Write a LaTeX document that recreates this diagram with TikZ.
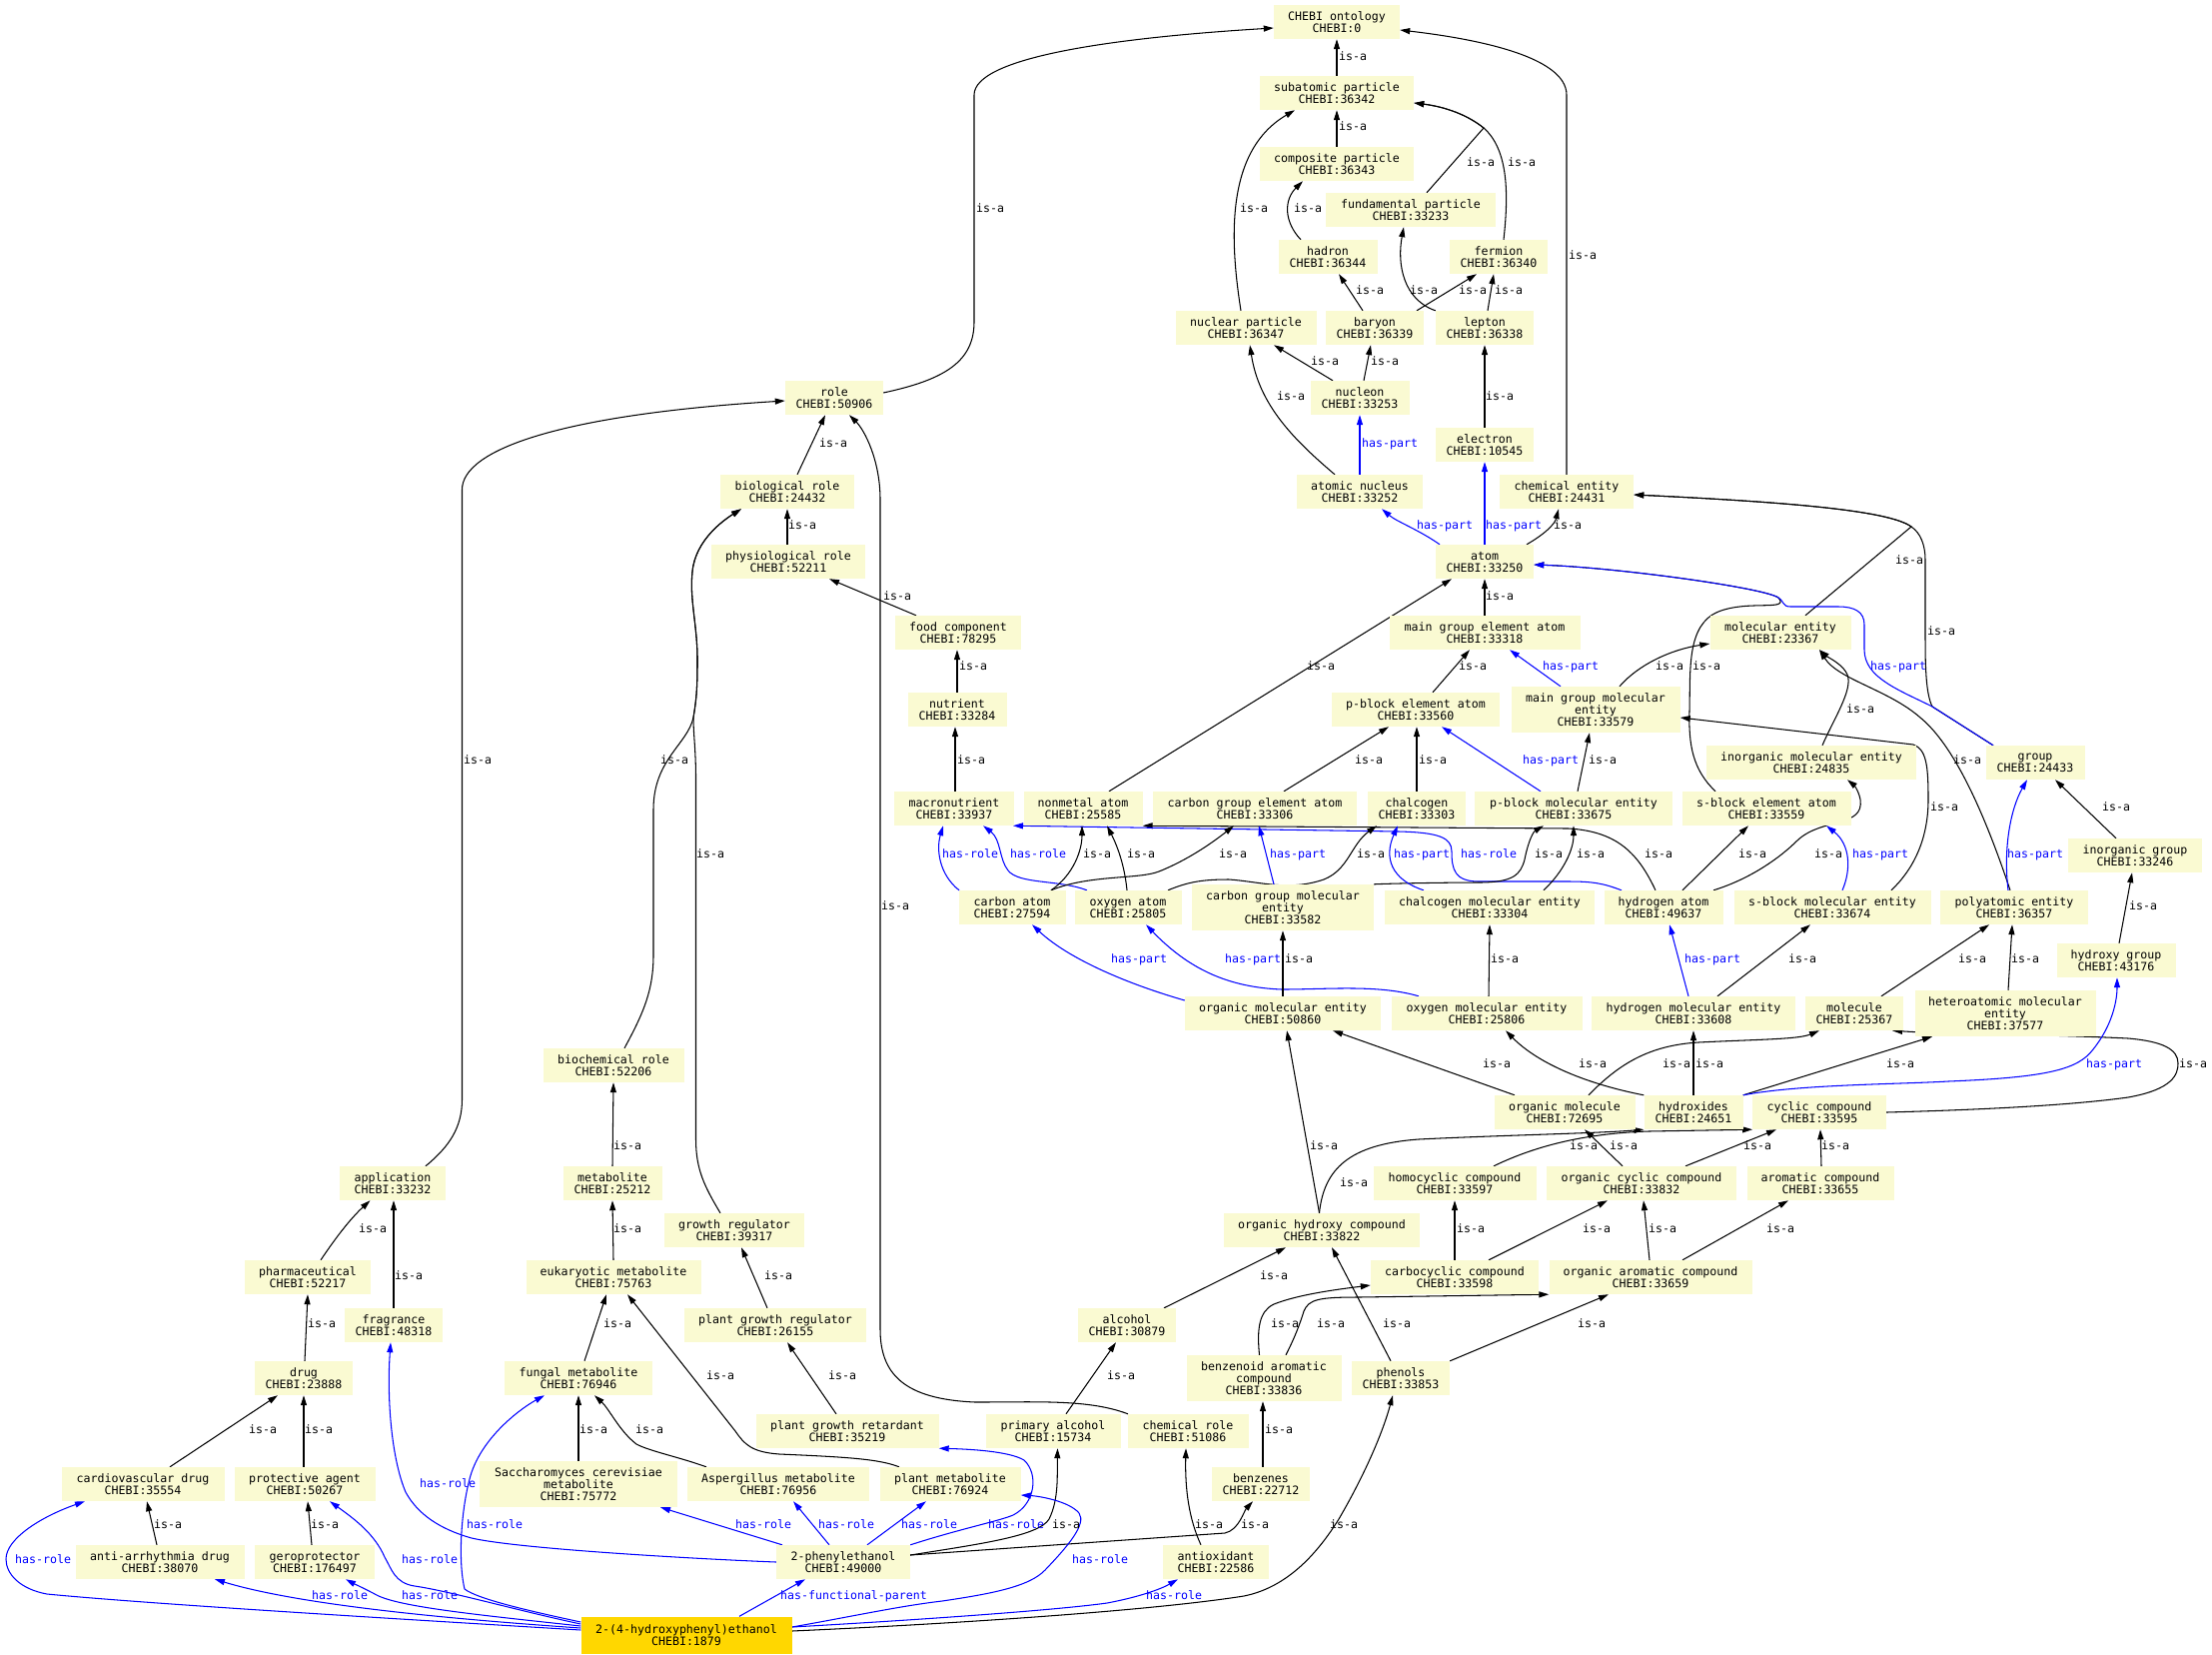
\documentclass[tikz,border=0pt]{standalone}
\usepackage{fontspec}
\setmonofont{DejaVu Sans Mono}
\usetikzlibrary{arrows.meta}
\definecolor{nodefill}{HTML}{FAFAD2}
\definecolor{goldfill}{HTML}{FFD700}
\newcommand\gvfont{\ttfamily\fontsize{11.6pt}{12pt}\selectfont}
\newcounter{elab}
\newcommand\elab[3][lk]{\stepcounter{elab}\node[#1] (lab\arabic{elab}) at (#2) {#3};}
\pgfdeclarelayer{back}
\pgfdeclarelayer{edges}
\pgfsetlayers{back,edges,main}
\tikzset{
 box/.style={fill=nodefill, inner sep=0pt, minimum height=34pt, align=center, font=\gvfont},
 box3/.style={box, minimum height=46pt},
 isa/.style={draw=black, line width=1.05pt, -{Triangle[length=10pt,width=6pt]}},
 hasp/.style={isa, draw=blue},
 lk/.style={font=\gvfont, inner sep=0pt, anchor=west, text height=8pt, text depth=2pt},
 lb/.style={lk, text=blue},
}
\begin{document}
\begin{tikzpicture}[x=1pt,y=-1pt]
\begin{pgfonlayer}{back}
\fill[white] (0,0) rectangle (2214,1655);
\end{pgfonlayer}
\useasboundingbox (0,0) rectangle (2214,1655);
% ---------------- nodes
\node[box,minimum width=126pt] (ont) at (1338,22) {CHEBI ontology\\CHEBI:0};
\node[box,minimum width=154pt] (subat) at (1338,93) {subatomic particle\\CHEBI:36342};
\node[box,minimum width=154pt] (compos) at (1338,164) {composite particle\\CHEBI:36343};
\node[box,minimum width=170pt] (fundam) at (1412,210) {fundamental particle\\CHEBI:33233};
\node[box,minimum width=99pt] (hadron) at (1329,257) {hadron\\CHEBI:36344};
\node[box,minimum width=98pt] (fermion) at (1500,257) {fermion\\CHEBI:36340};
\node[box,minimum width=141pt] (nuclpart) at (1247,328) {nuclear particle\\CHEBI:36347};
\node[box,minimum width=98pt] (baryon) at (1376,328) {baryon\\CHEBI:36339};
\node[box,minimum width=98pt] (lepton) at (1486,328) {lepton\\CHEBI:36338};
\node[box,minimum width=99pt] (nucleon) at (1361,398) {nucleon\\CHEBI:33253};
\node[box,minimum width=98pt] (electron) at (1486,445) {electron\\CHEBI:10545};
\node[box,minimum width=126pt] (atnucl) at (1361,492) {atomic nucleus\\CHEBI:33252};
\node[box,minimum width=134pt] (chement) at (1568,492) {chemical entity\\CHEBI:24431};
\node[box,minimum width=98pt] (role) at (835,398) {role\\CHEBI:50906};
\node[box,minimum width=134pt] (biorole) at (788,492) {biological role\\CHEBI:24432};
\node[box,minimum width=154pt] (physrole) at (789,562) {physiological role\\CHEBI:52211};
\node[box,minimum width=98pt] (atom) at (1486,562) {atom\\CHEBI:33250};
\node[box,minimum width=126pt] (foodcomp) at (959,633) {food component\\CHEBI:78295};
\node[box,minimum width=191pt] (mgea) at (1486,633) {main group element atom\\CHEBI:33318};
\node[box,minimum width=141pt] (molent) at (1782,633) {molecular entity\\CHEBI:23367};
\node[box,minimum width=99pt] (nutrient) at (958,710) {nutrient\\CHEBI:33284};
\node[box,minimum width=168pt] (pbea) at (1417,710) {p-block element atom\\CHEBI:33560};
\node[box3,minimum width=169pt] (mgme) at (1597,710) {main group molecular\\entity\\CHEBI:33579};
\node[box,minimum width=99pt] (group) at (2037,763) {group\\CHEBI:24433};
\node[box,minimum width=210pt] (inorgme) at (1813,763) {inorganic molecular entity\\CHEBI:24835};
\node[box,minimum width=120pt] (macronut) at (955,809) {macronutrient\\CHEBI:33937};
\node[box,minimum width=119pt] (nonmetal) at (1084,809) {nonmetal atom\\CHEBI:25585};
\node[box,minimum width=204pt] (cgea) at (1256,809) {carbon group element atom\\CHEBI:33306};
\node[box,minimum width=98pt] (chalcogen) at (1418,809) {chalcogen\\CHEBI:33303};
\node[box,minimum width=198pt] (pbme) at (1575,809) {p-block molecular entity\\CHEBI:33675};
\node[box,minimum width=169pt] (sbea) at (1768,809) {s-block element atom\\CHEBI:33559};
\node[box,minimum width=134pt] (inorggroup) at (2137,856) {inorganic group\\CHEBI:33246};
\node[box,minimum width=107pt] (carbonatom) at (1013,908) {carbon atom\\CHEBI:27594};
\node[box,minimum width=107pt] (oxyatom) at (1129,908) {oxygen atom\\CHEBI:25805};
\node[box3,minimum width=182pt] (cgme) at (1284,908) {carbon group molecular\\entity\\CHEBI:33582};
\node[box,minimum width=210pt] (chalme) at (1491,908) {chalcogen molecular entity\\CHEBI:33304};
\node[box,minimum width=119pt] (hatom) at (1665,908) {hydrogen atom\\CHEBI:49637};
\node[box,minimum width=197pt] (sbme) at (1834,908) {s-block molecular entity\\CHEBI:33674};
\node[box,minimum width=148pt] (polyat) at (2016,908) {polyatomic entity\\CHEBI:36357};
\node[box,minimum width=119pt] (hydroxygrp) at (2118,961) {hydroxy group\\CHEBI:43176};
\node[box,minimum width=196pt] (orgme) at (1284,1014) {organic molecular entity\\CHEBI:50860};
\node[box,minimum width=191pt] (oxyme) at (1488,1014) {oxygen molecular entity\\CHEBI:25806};
\node[box,minimum width=204pt] (hme) at (1695,1014) {hydrogen molecular entity\\CHEBI:33608};
\node[box,minimum width=98pt] (molecule) at (1856,1014) {molecule\\CHEBI:25367};
\node[box3,minimum width=181pt] (hetero) at (2007,1014) {heteroatomic molecular\\entity\\CHEBI:37577};
\node[box,minimum width=141pt] (biochem) at (614,1066) {biochemical role\\CHEBI:52206};
\node[box,minimum width=141pt] (orgmol) at (1566,1113) {organic molecule\\CHEBI:72695};
\node[box,minimum width=99pt] (hydroxides) at (1695,1113) {hydroxides\\CHEBI:24651};
\node[box,minimum width=134pt] (cyclic) at (1821,1113) {cyclic compound\\CHEBI:33595};
\node[box,minimum width=163pt] (homocyc) at (1456,1184) {homocyclic compound\\CHEBI:33597};
\node[box,minimum width=190pt] (orgcyc) at (1643,1184) {organic cyclic compound\\CHEBI:33832};
\node[box,minimum width=147pt] (aromatic) at (1822,1184) {aromatic compound\\CHEBI:33655};
\node[box,minimum width=106pt] (application) at (393,1184) {application\\CHEBI:33232};
\node[box,minimum width=99pt] (metabolite) at (613,1184) {metabolite\\CHEBI:25212};
\node[box,minimum width=140pt] (growthreg) at (735,1231) {growth regulator\\CHEBI:39317};
\node[box,minimum width=196pt] (orghydroxy) at (1323,1231) {organic hydroxy compound\\CHEBI:33822};
\node[box,minimum width=126pt] (pharma) at (308,1278) {pharmaceutical\\CHEBI:52217};
\node[box,minimum width=175pt] (eukmet) at (614,1278) {eukaryotic metabolite\\CHEBI:75763};
\node[box,minimum width=168pt] (carbocyc) at (1456,1278) {carbocyclic compound\\CHEBI:33598};
\node[box,minimum width=203pt] (orgarom) at (1652,1278) {organic aromatic compound\\CHEBI:33659};
\node[box,minimum width=98pt] (fragrance) at (394,1326) {fragrance\\CHEBI:48318};
\node[box,minimum width=182pt] (pgreg) at (776,1326) {plant growth regulator\\CHEBI:26155};
\node[box,minimum width=98pt] (alcohol) at (1128,1326) {alcohol\\CHEBI:30879};
\node[box3,minimum width=155pt] (benzenoid) at (1265,1379) {benzenoid aromatic\\compound\\CHEBI:33836};
\node[box,minimum width=98pt] (phenols) at (1402,1379) {phenols\\CHEBI:33853};
\node[box,minimum width=98pt] (drug) at (304,1379) {drug\\CHEBI:23888};
\node[box,minimum width=148pt] (fungal) at (579,1379) {fungal metabolite\\CHEBI:76946};
\node[box,minimum width=183pt] (pgret) at (848,1432) {plant growth retardant\\CHEBI:35219};
\node[box,minimum width=135pt] (primalc) at (1054,1432) {primary alcohol\\CHEBI:15734};
\node[box,minimum width=121pt] (chemrole) at (1189,1432) {chemical role\\CHEBI:51086};
\node[box,minimum width=163pt] (cardio) at (143,1485) {cardiovascular drug\\CHEBI:35554};
\node[box,minimum width=141pt] (protect) at (305,1485) {protective agent\\CHEBI:50267};
\node[box3,minimum width=198pt] (saccharo) at (579,1485) {Saccharomyces cerevisiae\\metabolite\\CHEBI:75772};
\node[box,minimum width=182pt] (asperg) at (779,1485) {Aspergillus metabolite\\CHEBI:76956};
\node[box,minimum width=141pt] (plantmet) at (951,1485) {plant metabolite\\CHEBI:76924};
\node[box,minimum width=98pt] (benzenes) at (1262,1485) {benzenes\\CHEBI:22712};
\node[box,minimum width=169pt] (antiarr) at (160,1563) {anti-arrhythmia drug\\CHEBI:38070};
\node[box,minimum width=120pt] (gero) at (315,1563) {geroprotector\\CHEBI:176497};
\node[box,minimum width=134pt] (phenyleth) at (844,1563) {2-phenylethanol\\CHEBI:49000};
\node[box,minimum width=106pt] (antiox) at (1217,1563) {antioxidant\\CHEBI:22586};
\node[box,fill=goldfill,minimum width=211pt,minimum height=37pt] (target) at (687,1636) {2-(4-hydroxyphenyl)ethanol\\CHEBI:1879};
% ---------------- edges
\begin{pgfonlayer}{edges}
% particles
\draw[isa] (subat.north) -- (ont.south);
\draw[isa] ([yshift=5pt]role.east) .. controls (945,380) and (975,362) .. (975,322) -- (975,95) .. controls (975,58) and (1110,38) .. ([yshift=-6pt]ont.west);
\draw[isa] (chement.north) -- (1568,95) .. controls (1568,55) and (1470,38) .. ([yshift=-8pt]ont.east);
\draw[isa] (compos.north) -- (subat.south);
\draw[isa] ([xshift=-5pt]nuclpart.north) .. controls (1230,235) and (1228,150) .. ([xshift=-42pt]subat.south);
\draw[isa] ([xshift=16pt]fundam.north) -- (1485,128) .. controls (1465,112) and (1440,106) .. ([yshift=-10pt]subat.east);
\draw[isa] ([xshift=5pt]fermion.north) .. controls (1510,195) and (1510,150) .. (1485,128) .. controls (1465,112) and (1440,106) .. ([yshift=-10pt]subat.east);
\draw[isa] ([xshift=-27pt]hadron.north) .. controls (1285,222) and (1285,200) .. ([xshift=-34pt]compos.south);
\draw[isa] ([xshift=-12pt]baryon.north) -- ([xshift=11pt]hadron.south);
\draw[isa] ([xshift=42pt]baryon.north) -- ([xshift=-22pt]fermion.south);
\draw[isa] (lepton.north west) .. controls (1405,300) and (1398,265) .. ([xshift=-7pt]fundam.south);
\draw[isa] ([xshift=3pt]lepton.north) -- ([xshift=-5pt]fermion.south);
\draw[isa] ([xshift=-27pt]nucleon.north) -- ([xshift=28pt]nuclpart.south);
\draw[isa] ([xshift=4pt]nucleon.north) -- ([xshift=-4pt]baryon.south);
\draw[isa] ([xshift=-25pt]atnucl.north) .. controls (1295,440) and (1260,405) .. ([xshift=4pt]nuclpart.south);
\draw[hasp] (atnucl.north) -- (nucleon.south);
\draw[isa] (electron.north) -- (lepton.south);
\draw[hasp] ([xshift=-45pt]atom.north) .. controls (1420,530) and (1398,522) .. ([xshift=22pt]atnucl.south);
\draw[hasp] (atom.north) -- (electron.south);
\draw[isa] ([xshift=42pt]atom.north) .. controls (1545,535) and (1556,525) .. ([xshift=-8pt]chement.south);
% upper right
\draw[isa] ([xshift=-42pt]group.north) -- (1934,707) .. controls (1928,695) and (1927,670) .. (1927,640) -- (1927,560) .. controls (1927,545) and (1922,533) .. (1913,527) .. controls (1890,510) and (1780,502) .. ([yshift=-3pt]chement.east);
\draw[isa] ([xshift=25pt]molent.north) -- (1913,527) .. controls (1890,510) and (1780,502) .. ([yshift=-3pt]chement.east);
\draw[isa] ([xshift=-51pt]sbea.north) .. controls (1694,770) and (1690,745) .. (1691,711) .. controls (1692,670) and (1688,625) .. (1720,612) .. controls (1750,600) and (1792,612) .. (1780,598) .. controls (1765,588) and (1620,568) .. ([yshift=-3pt]atom.east);
\draw[hasp] ([xshift=-42pt]group.north) -- (1934,707) .. controls (1900,690) and (1866,678) .. (1866,650) -- (1866,625) .. controls (1866,612) and (1856,607) .. (1840,607) -- (1792,607) .. controls (1784,607) and (1786,602) .. (1780,598) .. controls (1765,588) and (1620,568) .. ([yshift=-3pt]atom.east);
\draw[isa] (mgea.north) -- (atom.south);
\draw[isa] ([xshift=26pt]nonmetal.north) -- ([xshift=-33pt]atom.south);
\draw[isa] ([xshift=17pt]pbea.north) -- ([xshift=-15pt]mgea.south);
\draw[hasp] ([xshift=-35pt]mgme.north) -- ([xshift=25pt]mgea.south);
\draw[isa] ([xshift=24pt]mgme.north) .. controls (1640,665) and (1672,650) .. ([yshift=-11pt]molent.west);
% roles
\draw[isa] ([xshift=-42pt]foodcomp.north) -- ([xshift=41pt]physrole.south);
\draw[isa] ([xshift=-1pt]physrole.north) -- (biorole.south);
\draw[isa] ([xshift=10pt]biorole.north) -- ([xshift=-9pt]role.south);
\draw[isa] ([xshift=-60pt]chemrole.north) .. controls (1090,1400) and (1040,1403) .. (976,1403) .. controls (905,1400) and (881,1375) .. (881,1330) -- (881,500) .. controls (881,460) and (865,430) .. ([xshift=15pt]role.south);
\draw[isa] ([xshift=33pt]application.north) .. controls (450,1147) and (462.5,1128) .. (462.5,1100) -- (462.5,490) .. controls (462.5,450) and (560,415) .. ([yshift=-3pt]role.west);
\draw[isa] ([xshift=11pt]biochem.north) .. controls (645,1012) and (654,990) .. (654,955) -- (654,810) .. controls (654,760) and (688,745) .. (694,718) .. controls (697,700) and (698,690) .. (698,660) .. controls (698,625) and (690,600) .. (693,572) .. controls (696,540) and (725,520) .. ([xshift=-46pt]biorole.south);
\draw[isa] ([xshift=-14pt]growthreg.north) .. controls (705,1187) and (696.5,1170) .. (696.5,1140) -- (696.5,780) .. controls (696.5,750) and (694,735) .. (694,718) .. controls (697,700) and (698,690) .. (698,660) .. controls (698,625) and (690,600) .. (693,572) .. controls (696,540) and (725,520) .. ([xshift=-46pt]biorole.south);
\draw[isa] (nutrient.north) -- ([xshift=-1pt]foodcomp.south);
\draw[isa] ([xshift=1pt]macronut.north) -- ([xshift=-2pt]nutrient.south);
% atoms row
\draw[isa] ([xshift=29pt]cgea.north) -- ([xshift=-27pt]pbea.south);
\draw[isa] (chalcogen.north) -- ([xshift=1pt]pbea.south);
\draw[hasp] ([xshift=-33pt]pbme.north) -- ([xshift=26pt]pbea.south);
\draw[isa] ([xshift=4pt]pbme.north) -- ([xshift=-6pt]mgme.south);
\draw[isa] ([xshift=11pt]inorgme.north) .. controls (1835,720) and (1855,690) .. (1849,675) .. controls (1845,665) and (1830,658) .. ([xshift=39pt]molent.south);
\draw[isa] ([xshift=-4pt]polyat.north) .. controls (1985,810) and (1955,745) .. (1922,718) .. controls (1890,690) and (1840,680) .. ([xshift=39pt]molent.south);
\draw[isa] ([xshift=59pt]sbme.north) .. controls (1915,870) and (1930,840) .. (1930,800) .. controls (1930,765) and (1928,750) .. (1915,745) -- ([yshift=-8pt]mgme.east);
\draw[isa] ([xshift=19pt]hatom.north) -- ([xshift=-18pt]sbea.south);
\draw[isa] ([xshift=-8pt]hatom.north) .. controls (1640,855) and (1620,832) .. (1570,829) -- (nonmetal.south east);
\draw[hasp] ([xshift=-42pt]hatom.north) .. controls (1605,884) and (1595,882) .. (1570,882) -- (1480,882) .. controls (1456,882) and (1453,870) .. (1453,852) .. controls (1453,838) and (1440,833) .. (1400,832) -- ([xshift=59pt]macronut.south);
\draw[isa] (cgme.north east) .. controls (1390,884) and (1450,883) .. (1480,883) .. controls (1515,883) and (1522,875) .. (1526,860) .. controls (1530,840) and (1535,832) .. ([xshift=-30pt]pbme.south);
\draw[isa] ([xshift=54pt]chalme.north) .. controls (1565,872) and (1575,850) .. (pbme.south);
\draw[hasp] ([xshift=-66pt]chalme.north) .. controls (1392,880) and (1385,858) .. ([xshift=-19pt]chalcogen.south);
\draw[isa] ([xshift=40pt]oxyatom.north) .. controls (1190,882) and (1205,880) .. (1230,880) .. controls (1260,882) and (1290,892) .. (1325,880) .. controls (1350,870) and (1352,845) .. ([xshift=-40pt]chalcogen.south);
\draw[hasp] ([xshift=-9pt]cgme.north) -- ([xshift=4pt]cgea.south);
\draw[hasp] ([xshift=-53pt]carbonatom.north) .. controls (940,875) and (937,850) .. ([xshift=-11pt]macronut.south);
\draw[hasp] ([xshift=-41pt]oxyatom.north) .. controls (1060,880) and (1020,885) .. (1009,871) .. controls (1000,860) and (1002,840) .. ([xshift=29pt]macronut.south);
\draw[isa] ([xshift=39pt]carbonatom.north) .. controls (1075,875) and (1083,850) .. ([xshift=-1pt]nonmetal.south);
\draw[isa] ([xshift=-1pt]oxyatom.north) .. controls (1125,860) and (1115,840) .. ([xshift=24pt]nonmetal.south);
\draw[isa] ([xshift=39pt]carbonatom.north) .. controls (1090,875) and (1140,880) .. (1160,872) .. controls (1190,860) and (1215,842) .. ([xshift=-21pt]cgea.south);
\draw[isa] ([xshift=50pt]hatom.north) .. controls (1750,880) and (1780,860) .. (1800,840) .. controls (1825,818) and (1866,828) .. (1862,800) .. controls (1860,790) and (1855,785) .. ([xshift=36pt]inorgme.south);
\draw[hasp] ([xshift=10pt]sbme.north) .. controls (1853,870) and (1852,845) .. ([xshift=60pt]sbea.south);
% molecular entity row
\draw[hasp] ([yshift=13pt]orgme.west) .. controls (1130,985) and (1070,960) .. ([xshift=20pt]carbonatom.south);
\draw[hasp] ([xshift=-68pt]oxyme.north) .. controls (1380,985) and (1330,990) .. (1283,990) .. controls (1230,988) and (1190,970) .. ([xshift=18pt]oxyatom.south);
\draw[isa] (orgme.north) -- (cgme.south);
\draw[isa] ([xshift=2pt]oxyme.north) -- (chalme.south);
\draw[hasp] ([xshift=-5pt]hme.north) -- ([xshift=6pt]hatom.south);
\draw[isa] ([xshift=24pt]hme.north) -- ([xshift=-22pt]sbme.south);
\draw[isa] ([xshift=27pt]molecule.north) -- ([xshift=-25pt]polyat.south);
\draw[isa] ([xshift=3pt]hetero.north) -- ([xshift=-2pt]polyat.south);
\draw[hasp] ([xshift=-6pt]polyat.north) .. controls (2005,850) and (2012,810) .. ([xshift=-8pt]group.south);
\draw[isa] ([xshift=-19pt]inorggroup.north) -- ([xshift=20pt]group.south);
\draw[isa] ([xshift=3pt]hydroxygrp.north) -- ([xshift=-3pt]inorggroup.south);
% lower right
\draw[isa] (hydroxides.north west) .. controls (1590,1085) and (1540,1065) .. ([xshift=19pt]oxyme.south);
\draw[isa] ([xshift=24pt]orgmol.north) .. controls (1620,1065) and (1650,1046) .. (1700,1043) .. controls (1760,1040) and (1800,1040) .. ([xshift=-35pt]molecule.south);
\draw[isa] (hydroxides.north) -- (hme.south);
\draw[isa] (hydroxides.north east) -- ([xshift=-73pt]hetero.south);
\draw[isa] (cyclic.east) .. controls (2000,1110) and (2080,1105) .. (2130,1098) .. controls (2175,1090) and (2180,1075) .. (2180,1064) .. controls (2180,1050) and (2165,1042) .. (2130,1039) .. controls (2050,1035) and (1950,1035) .. ([xshift=38pt]molecule.south);
\draw[hasp] (hydroxides.north east) .. controls (1800,1085) and (1900,1085) .. (1950,1082) .. controls (2050,1078) and (2080,1070) .. (2095,1050) .. controls (2115,1025) and (2119,1000) .. ([xshift=1pt]hydroxygrp.south);
\draw[isa] ([xshift=-50pt]orgmol.north) -- ([xshift=50pt]orgme.south);
\draw[isa] ([xshift=-19pt]orgcyc.north) -- ([xshift=20pt]orgmol.south);
\draw[isa] ([xshift=39pt]homocyc.north) .. controls (1540,1145) and (1590,1134) .. (1650,1132) -- ([xshift=-67pt]cyclic.south);
\draw[isa] ([xshift=-2.5pt]orghydroxy.north) .. controls (1325,1170) and (1350,1145) .. (1420,1140) .. controls (1500,1136) and (1600,1134) .. (hydroxides.south west);
\draw[isa] ([xshift=44pt]orgcyc.north) -- ([xshift=-43pt]cyclic.south);
\draw[isa] ([xshift=1pt]aromatic.north) -- ([xshift=1pt]cyclic.south);
\draw[isa] (carbocyc.north) -- (homocyc.south);
\draw[isa] ([xshift=34pt]carbocyc.north) -- ([xshift=-34pt]orgcyc.south);
\draw[isa] ([xshift=-1pt]orgarom.north) -- ([xshift=2pt]orgcyc.south);
\draw[isa] ([xshift=32pt]orgarom.north) -- ([xshift=-32pt]aromatic.south);
\draw[isa] (phenols.north east) -- ([xshift=-42pt]orgarom.south);
\draw[isa] ([xshift=-10pt]phenols.north) -- ([xshift=10pt]orghydroxy.south);
\draw[isa] ([xshift=-4.5pt]benzenoid.north) .. controls (1258,1330) and (1260,1312) .. (1275,1305) .. controls (1300,1295) and (1340,1290) .. ([yshift=-8pt]carbocyc.west);
\draw[isa] ([xshift=22pt]benzenoid.north) .. controls (1295,1340) and (1300,1328) .. (1305,1312) .. controls (1310,1300) and (1320,1298) .. (1360,1298) -- (orgarom.south west);
\draw[isa] ([xshift=-2.5pt]orghydroxy.north) -- ([xshift=4pt]orgme.south);
\draw[isa] ([xshift=37pt]alcohol.north) -- ([xshift=-36pt]orghydroxy.south);
\draw[isa] ([xshift=13pt]primalc.north) -- ([xshift=-11pt]alcohol.south);
\draw[isa] ([xshift=2pt]benzenes.north) -- ([xshift=-1pt]benzenoid.south);
\draw[isa] ([xshift=-15pt]antiox.north) .. controls (1190,1520) and (1186,1490) .. ([xshift=-2pt]chemrole.south);
\draw[isa] ([xshift=-11pt]pgret.north) -- ([xshift=12pt]pgreg.south);
\draw[isa] ([xshift=-8pt]pgreg.north) -- ([xshift=7pt]growthreg.south);
% 2-phenylethanol
\draw[isa] ([yshift=7pt]phenyleth.east) .. controls (980,1545) and (1040,1537) .. (1050,1520) .. controls (1060,1500) and (1058,1475) .. ([xshift=4.5pt]primalc.south);
\draw[isa] ([yshift=7pt]phenyleth.east) -- (1226,1534) .. controls (1240,1531) and (1245,1512) .. ([xshift=-8pt]benzenes.south);
\draw[hasp] (phenyleth.north east) .. controls (960,1530) and (1000,1522) .. (1014,1516) .. controls (1036,1505) and (1040,1475) .. (1025,1461) .. controls (1010,1452) and (970,1450) .. (pgret.south east);
\draw[hasp] ([xshift=24pt]phenyleth.north) -- ([xshift=-24pt]plantmet.south);
\draw[hasp] ([xshift=-14pt]phenyleth.north) -- ([xshift=15pt]asperg.south);
\draw[hasp] ([xshift=-61pt]phenyleth.north) -- ([xshift=82pt]saccharo.south);
\draw[hasp] (phenyleth.west) .. controls (700,1560) and (520,1550) .. (472,1539) .. controls (440,1530) and (418,1515) .. (406,1493) .. controls (392,1460) and (387,1400) .. ([xshift=-3pt]fragrance.south);
% target
\draw[hasp] ([xshift=53pt]target.north) -- ([xshift=-38pt]phenyleth.south);
\draw[hasp] ([yshift=8pt]target.east) .. controls (850,1618) and (900,1607) .. (943,1602) .. controls (990,1595) and (1030,1588) .. (1046,1571) .. controls (1068,1548) and (1088,1525) .. (1080,1514) .. controls (1070,1502) and (1040,1497) .. ([yshift=-11pt]plantmet.east);
\draw[hasp] ([yshift=8pt]target.east) .. controls (900,1622) and (1050,1612) .. (1108,1604) .. controls (1140,1598) and (1162,1590) .. ([xshift=-38pt]antiox.south);
\draw[isa] ([yshift=4pt]target.east) .. controls (950,1625) and (1150,1612) .. (1245,1597) .. controls (1290,1588) and (1320,1552) .. (1340,1520) .. controls (1368,1472) and (1385,1430) .. ([xshift=-8pt]phenols.south);
\draw[hasp] ([yshift=13pt]target.west) .. controls (530,1612) and (478,1600) .. (465,1590) .. controls (458,1560) and (462,1510) .. (470,1480) .. controls (480,1440) and (520,1410) .. ([xshift=-34pt]fungal.south);
\draw[hasp] ([yshift=11pt]target.west) .. controls (520,1612) and (450,1592) .. (415,1587) .. controls (395,1584) and (392,1570) .. (385,1558) .. controls (375,1535) and (355,1520) .. ([xshift=25pt]protect.south);
\draw[hasp] ([yshift=9pt]target.west) .. controls (480,1616) and (400,1608) .. (377,1596) .. controls (366,1590) and (355,1585) .. ([xshift=31pt]gero.south);
\draw[hasp] ([yshift=7pt]target.west) .. controls (450,1620) and (300,1606) .. ([xshift=55pt]antiarr.south);
\draw[hasp] ([yshift=5pt]target.west) .. controls (400,1620) and (150,1605) .. (47,1595) .. controls (20,1590) and (6,1575) .. (6,1560) .. controls (6,1540) and (40,1518) .. ([xshift=-58pt]cardio.south);
% left
\draw[isa] ([xshift=27pt]cardio.north) -- ([xshift=-26pt]drug.south);
\draw[isa] ([xshift=-1pt]protect.north) -- (drug.south);
\draw[isa] ([xshift=-3pt]antiarr.north) -- ([xshift=4pt]cardio.south);
\draw[isa] ([xshift=-3pt]gero.north) -- ([xshift=3pt]protect.south);
\draw[isa] ([xshift=1pt]drug.north) -- (pharma.south);
\draw[isa] ([xshift=13pt]pharma.north) .. controls (335,1240) and (350,1220) .. ([xshift=-22.5pt]application.south);
\draw[isa] (fragrance.north) -- ([xshift=1pt]application.south);
\draw[isa] (metabolite.north) -- (biochem.south);
\draw[isa] (eukmet.north) -- (metabolite.south);
\draw[isa] ([xshift=6pt]fungal.north) -- ([xshift=-7pt]eukmet.south);
\draw[isa] (saccharo.north) -- (fungal.south);
\draw[isa] ([xshift=-72pt]asperg.north) .. controls (680,1458) and (650,1452) .. (637,1445) .. controls (620,1432) and (610,1410) .. ([xshift=16pt]fungal.south);
\draw[isa] ([xshift=-51pt]plantmet.north) .. controls (880,1460) and (850,1458) .. (780,1455) .. controls (752,1453) and (745,1445) .. (736,1432) -- ([xshift=14pt]eukmet.south);
\end{pgfonlayer}
% ---------------- labels
\elab{1340,57}{is-a}
\elab{977,209}{is-a}
\elab{1570,256}{is-a}
\elab{1340,127}{is-a}
\elab{1241,209}{is-a}
\elab{1468,163}{is-a}
\elab{1509,163}{is-a}
\elab{1295,209}{is-a}
\elab{1357,291}{is-a}
\elab{1460,291}{is-a}
\elab{1411,291}{is-a}
\elab{1496,291}{is-a}
\elab{1312,362}{is-a}
\elab{1372,362}{is-a}
\elab{1278,397}{is-a}
\elab[lb]{1363,444}{has-part}
\elab{1487,397}{is-a}
\elab[lb]{1418,526}{has-part}
\elab[lb]{1487,526}{has-part}
\elab{1555,526}{is-a}
\elab{1897,561}{is-a}
\elab{1929,632}{is-a}
\elab{1694,667}{is-a}
\elab[lb]{1872,667}{has-part}
\elab{1487,597}{is-a}
\elab{1308,667}{is-a}
\elab{1460,667}{is-a}
\elab[lb]{1544,667}{has-part}
\elab{1657,667}{is-a}
\elab{884,597}{is-a}
\elab{789,526}{is-a}
\elab{820,444}{is-a}
\elab{882,907}{is-a}
\elab{464,761}{is-a}
\elab{661,761}{is-a}
\elab{697,855}{is-a}
\elab{960,667}{is-a}
\elab{958,761}{is-a}
\elab{1356,761}{is-a}
\elab{1420,761}{is-a}
\elab[lb]{1524,761}{has-part}
\elab{1590,761}{is-a}
\elab{1848,710}{is-a}
\elab{1955,761}{is-a}
\elab{1932,808}{is-a}
\elab{1740,855}{is-a}
\elab{1646,855}{is-a}
\elab[lb]{1462,855}{has-role}
\elab{1536,855}{is-a}
\elab{1578,855}{is-a}
\elab[lb]{1395,855}{has-part}
\elab{1358,855}{is-a}
\elab[lb]{1271,855}{has-part}
\elab[lb]{943,855}{has-role}
\elab[lb]{1011,855}{has-role}
\elab{1084,855}{is-a}
\elab{1128,855}{is-a}
\elab{1220,855}{is-a}
\elab{1816,855}{is-a}
\elab[lb]{1854,855}{has-part}
\elab[lb]{1112,960}{has-part}
\elab[lb]{1226,960}{has-part}
\elab{1286,960}{is-a}
\elab{1492,960}{is-a}
\elab[lb]{1686,960}{has-part}
\elab{1790,960}{is-a}
\elab{1960,960}{is-a}
\elab{2013,960}{is-a}
\elab[lb]{2009,855}{has-part}
\elab{2104,808}{is-a}
\elab{2131,907}{is-a}
\elab{1580,1065}{is-a}
\elab{1664,1065}{is-a}
\elab{1697,1065}{is-a}
\elab{1888,1065}{is-a}
\elab{2181,1065}{is-a}
\elab[lb]{2088,1065}{has-part}
\elab{1484,1065}{is-a}
\elab{1611,1147}{is-a}
\elab{1571,1147}{is-a}
\elab{1341,1184}{is-a}
\elab{1745,1147}{is-a}
\elab{1823,1147}{is-a}
\elab{1458,1230}{is-a}
\elab{1584,1230}{is-a}
\elab{1650,1230}{is-a}
\elab{1768,1230}{is-a}
\elab{1579,1325}{is-a}
\elab{1384,1325}{is-a}
\elab{1272,1325}{is-a}
\elab{1318,1325}{is-a}
\elab{1311,1147}{is-a}
\elab{1261,1277}{is-a}
\elab{1108,1377}{is-a}
\elab{1266,1431}{is-a}
\elab{1196,1526}{is-a}
\elab{829,1377}{is-a}
\elab{765,1277}{is-a}
\elab{1053,1526}{is-a}
\elab{1242,1526}{is-a}
\elab[lb]{989,1526}{has-role}
\elab[lb]{902,1526}{has-role}
\elab[lb]{819,1526}{has-role}
\elab[lb]{736,1526}{has-role}
\elab[lb]{420,1485}{has-role}
\elab[lb]{781,1597}{has-functional-parent}
\elab[lb]{1073,1561}{has-role}
\elab[lb]{1147,1597}{has-role}
\elab{1331,1526}{is-a}
\elab[lb]{467,1526}{has-role}
\elab[lb]{402,1561}{has-role}
\elab[lb]{402,1597}{has-role}
\elab[lb]{312,1597}{has-role}
\elab[lb]{15,1561}{has-role}
\elab{249,1431}{is-a}
\elab{305,1431}{is-a}
\elab{154,1526}{is-a}
\elab{311,1526}{is-a}
\elab{308,1325}{is-a}
\elab{359,1230}{is-a}
\elab{395,1277}{is-a}
\elab{614,1147}{is-a}
\elab{614,1230}{is-a}
\elab{604,1325}{is-a}
\elab{580,1431}{is-a}
\elab{636,1431}{is-a}
\elab{707,1377}{is-a}
\end{tikzpicture}
\end{document}
